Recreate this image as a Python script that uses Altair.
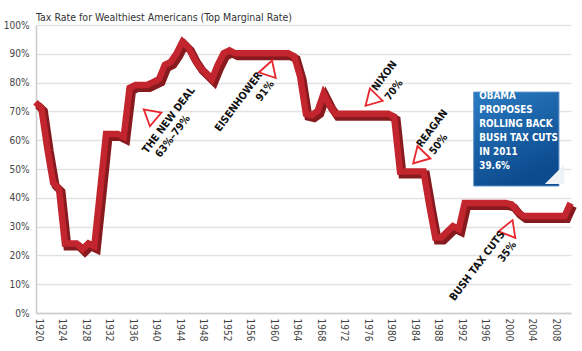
import altair as alt
import pandas as pd

# ---------------- data ----------------
years = [1920, 1921, 1922, 1923, 1924, 1925, 1926, 1927, 1928, 1929, 1930,
         1932, 1933, 1934, 1935, 1936, 1937, 1938, 1939, 1940, 1941, 1942,
         1943, 1944, 1945, 1946, 1947, 1948, 1949, 1950, 1951, 1952, 1953,
         1954, 1955, 1956, 1957, 1958, 1959, 1960, 1961, 1962, 1963, 1964,
         1965, 1966, 1967, 1968, 1969, 1970, 1971, 1972, 1973, 1974, 1975,
         1976, 1977, 1978, 1979, 1980, 1981, 1982, 1983, 1984, 1985, 1986,
         1987, 1988, 1989, 1990, 1991, 1992, 1993, 1994, 1995, 1996, 1997,
         1998, 1999, 2000, 2001, 2002, 2003, 2004, 2005, 2006, 2007, 2008,
         2009, 2010, 2011]
rates = [73, 71, 57, 45, 43, 24, 24, 24, 22, 24, 23,
         62, 62, 62, 61, 78, 79, 79, 79, 80, 81, 86,
         87, 90, 94, 92, 88, 85, 83, 81, 86, 90, 91,
         90, 90, 90, 90, 90, 90, 90, 90, 90, 90, 89,
         82, 69, 68.5, 70, 76, 72, 69, 69, 69, 69, 69,
         69, 69, 69, 69, 69, 68, 49, 49, 49, 49, 49,
         37, 26, 26, 28, 30, 29, 38, 38, 38, 38, 38,
         38, 38, 38, 37.5, 35, 33.5, 33.5, 33.5, 33.5, 33.5, 33.5,
         33.5, 33.5, 38]

tick_years = list(range(1920, 2009, 4))
pct_ticks = list(range(0, 101, 10))

title_text = "Tax Rate for Wealthiest Americans (Top Marginal Rate)"

# rotated annotation lines
ann_text = ["THE NEW DEAL", "63%\u201379%", "EISENHOWER", "91%", "NIXON", "70%",
            "REAGAN", "50%", "BUSH TAX CUTS", "35%"]
ann_year = [1942.6, 1943.3, 1954.5, 1959.0, 1979.3, 1980.9, 1987.4, 1988.5, 1995.1, 2000.2]
ann_rate = [66.9, 61.3, 73.3, 77.0, 82.3, 77.4, 64.0, 58.5, 16.3, 21.2]

# red outline triangles
tri_year = [1939.6, 1959.9, 1977.7, 1985.8, 2000.7]
tri_rate = [67.5, 83.6, 74.3, 54.3, 28.2]
tri_shape = ["triangle-down", "triangle-down", "triangle-right", "triangle-right", "triangle-down"]
tri_angle = [10, 318, 14, 14, 321]

# Obama call-out box
box_lines = ["OBAMA", "PROPOSES", "ROLLING BACK", "BUSH TAX CUTS", "IN 2011", "39.6%"]
box_line_rate = [75.3, 70.6, 65.7, 60.8, 56.0, 51.2]
box_text_year = 1995.4
box_year = [1994.45, 2008.95]
box_rate = [76.7, 44.1]
corner_year = 2008.2
corner_rate = 48.2

FONT = "'DejaVu Sans Condensed', 'Roboto Condensed', Roboto, sans-serif"

# ---------------- scales / axes ----------------
xs = alt.Scale(domain=[1920, 2011], nice=False, zero=False)
ys = alt.Scale(domain=[0, 100], nice=False, zero=True)

x_axis = alt.Axis(values=tick_years, format="d", labelAngle=90, grid=False, ticks=False,
                  domain=True, domainColor="#cccccc", domainWidth=1.5,
                  labelFont=FONT, labelFontSize=10, labelColor="#444444",
                  labelPadding=5, labelOffset=2, title=None)
y_axis = alt.Axis(values=pct_ticks, labelExpr="datum.value + '%'", grid=True,
                  gridColor="#e2e2e2", gridWidth=1.5, ticks=False,
                  domain=True, domainColor="#cccccc", domainWidth=1.5,
                  labelFont=FONT, labelFontSize=10, labelColor="#444444",
                  labelPadding=7, title=None)


def X(field="year"):
    return alt.X(f"{field}:Q", scale=xs, axis=x_axis)


def Y(field="rate"):
    return alt.Y(f"{field}:Q", scale=ys, axis=y_axis)


df = pd.DataFrame({"year": years, "rate": rates})

ribbon_dark = alt.Chart(df).mark_line(
    color="#871a1e", strokeWidth=8, strokeJoin="miter", strokeCap="butt",
    xOffset=2, yOffset=2.5
).encode(x=X(), y=Y(), order="year:Q")

ribbon_bright = alt.Chart(df).mark_line(
    color="#c2252d", strokeWidth=6.5, strokeJoin="miter", strokeCap="butt",
    xOffset=-0.5, yOffset=-0.5
).encode(x=X(), y=Y(), order="year:Q")

ann_df = pd.DataFrame({"year": ann_year, "rate": ann_rate, "label": ann_text})
ann = alt.Chart(ann_df).mark_text(
    font=FONT, fontWeight="bold", fontSize=10.5, color="#111111",
    angle=307, align="center", baseline="middle"
).encode(x=X(), y=Y(), text="label:N")

tri_df = pd.DataFrame({"year": tri_year, "rate": tri_rate, "shape": tri_shape, "ang": tri_angle})
tris = alt.Chart(tri_df).mark_point(
    filled=False, color="#e8262d", strokeWidth=1.8, size=320, opacity=1
).encode(x=X(), y=Y(), shape=alt.Shape("shape:N", scale=None),
         angle=alt.Angle("ang:Q", scale=None))

box_df = pd.DataFrame({"year": [box_year[0]], "year2": [box_year[1]],
                       "rate": [box_rate[0]], "rate2": [box_rate[1]]})
box = alt.Chart(box_df).mark_rect(
    color=alt.Gradient(gradient="linear",
                       stops=[alt.GradientStop(color="#2b7bc2", offset=0),
                              alt.GradientStop(color="#0c4b8e", offset=1)],
                       x1=0, x2=0.4, y1=0, y2=1),
    stroke="#5b93c9", strokeWidth=1
).encode(x=X(), x2="year2:Q", y=Y(), y2="rate2:Q")

corner_df = pd.DataFrame({"year": [corner_year], "rate": [corner_rate]})
corner = alt.Chart(corner_df).mark_point(
    shape="M 1 -1 L 1 1 L -1 1 Z", filled=True, color="#eef2f5", size=380,
    opacity=1, strokeWidth=0
).encode(x=X(), y=Y())

box_txt_df = pd.DataFrame({"year": [box_text_year] * len(box_lines),
                           "rate": box_line_rate, "label": box_lines})
box_txt = alt.Chart(box_txt_df).mark_text(
    font=FONT, fontWeight="bold", fontSize=9.8, color="white",
    align="left", baseline="middle"
).encode(x=X(), y=Y(), text="label:N")

title = alt.Chart(pd.DataFrame({"t": [title_text]})).mark_text(
    font=FONT, fontSize=10.5, color="#333333", align="left", baseline="alphabetic"
).encode(x=alt.value(0), y=alt.value(-4), text="t:N")

chart = alt.layer(
    ribbon_dark, ribbon_bright, tris, ann, box, corner, box_txt, title
).properties(
    width=535, height=288,
    padding={"left": 36, "top": 25, "right": 11, "bottom": 38},
    autosize=alt.AutoSizeParams(type="none"),
    background="white"
).configure_view(stroke=None)

chart.save("out.html", embed_options={"renderer": "svg", "actions": False})
